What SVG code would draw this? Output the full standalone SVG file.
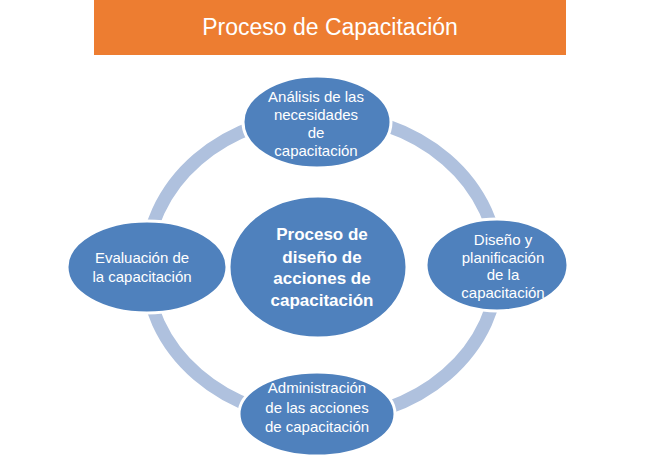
<svg xmlns="http://www.w3.org/2000/svg" width="659" height="466" viewBox="0 0 659 466">
<style>
.node{fill:#4F81BD;stroke:#FFFFFF;stroke-width:3}
.lbl{font-family:"Liberation Sans",Arial,sans-serif;font-size:15px;fill:#FFFFFF;text-anchor:middle}
.ctr{font-family:"Liberation Sans",Arial,sans-serif;font-size:17px;font-weight:bold;fill:#FFFFFF;text-anchor:middle}
.title{font-family:"Liberation Sans",Arial,sans-serif;font-size:23px;fill:#FFFFFF;text-anchor:middle}
</style>
<rect width="659" height="466" fill="#FFFFFF"/>
<g id="title">
<rect x="94" y="0" width="472" height="55" fill="#ED7D31"/>
<text class="title" x="330" y="35">Proceso de Capacitación</text>
</g>
<g id="connectors">
<ellipse cx="322" cy="267" rx="176" ry="152" fill="none" stroke="#AFC1DE" stroke-width="13"/>
</g>
<g id="center">
<ellipse class="node" cx="318" cy="267" rx="89" ry="71"/>
<text class="ctr" x="322" y="240">Proceso de</text>
<text class="ctr" x="322" y="263">diseño de</text>
<text class="ctr" x="322" y="284">acciones de</text>
<text class="ctr" x="322" y="306">capacitación</text>
</g>
<g id="top">
<ellipse class="node" cx="317" cy="122" rx="74" ry="46"/>
<text class="lbl" x="316" y="102">Análisis de las</text>
<text class="lbl" x="316" y="120">necesidades</text>
<text class="lbl" x="316" y="138">de</text>
<text class="lbl" x="316" y="156">capacitación</text>
</g>
<g id="right">
<ellipse class="node" cx="497" cy="265" rx="71" ry="46"/>
<text class="lbl" x="503" y="245">Diseño y</text>
<text class="lbl" x="503" y="263">planificación</text>
<text class="lbl" x="503" y="280">de la</text>
<text class="lbl" x="503" y="298">capacitación</text>
</g>
<g id="bottom">
<ellipse class="node" cx="317" cy="414" rx="78" ry="42"/>
<text class="lbl" x="317" y="393">Administración</text>
<text class="lbl" x="317" y="413">de las acciones</text>
<text class="lbl" x="317" y="432">de capacitación</text>
</g>
<g id="left">
<ellipse class="node" cx="147" cy="267" rx="80" ry="46"/>
<text class="lbl" x="142" y="263">Evaluación de</text>
<text class="lbl" x="142" y="282">la capacitación</text>
</g>
</svg>
